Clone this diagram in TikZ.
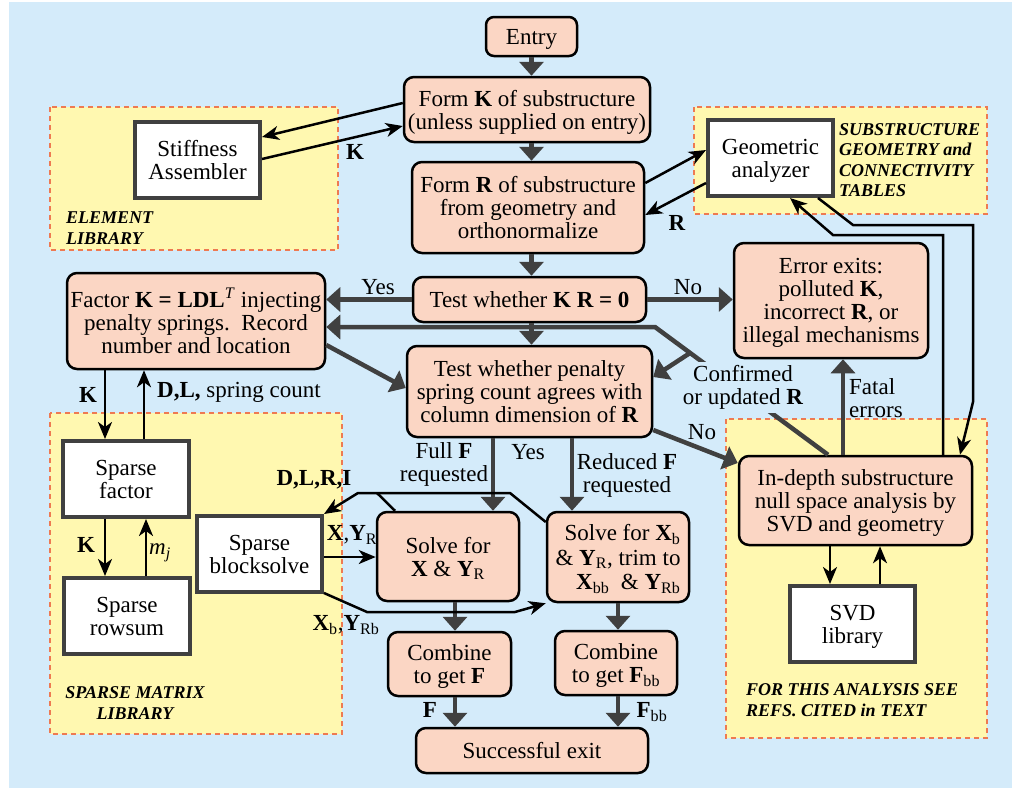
\documentclass[tikz,border=0pt]{standalone}
\usepackage{fontspec}
\setmainfont{Liberation Serif}
\usetikzlibrary{arrows.meta,calc}
\definecolor{bgblue}{RGB}{212,235,250}
\definecolor{peach}{RGB}{251,214,196}
\definecolor{ylw}{RGB}{255,248,176}
\definecolor{dashc}{RGB}{238,122,82}
\definecolor{darkg}{RGB}{64,64,64}
\newcommand\mainf{\fontsize{23}{23}\selectfont}
\newcommand\regf{\fontsize{18}{20.5}\selectfont\bfseries\itshape}
\newcommand\bsub[2]{\textbf{#1}\textsubscript{#2}}
\begin{document}
\begin{tikzpicture}[x=1pt,y=-1pt,
 proc/.style={draw=black, line width=2.5pt, fill=peach, rounded corners=10pt, align=center, inner sep=2pt, font=\mainf, text depth=0pt},
 libbox/.style={draw=darkg, line width=4pt, fill=white, align=center, inner sep=2pt, font=\mainf, text depth=0pt},
 region/.style={draw=dashc, fill=ylw, line width=2pt, dash pattern=on 5pt off 4pt},
 garrow/.style={draw=darkg, line width=4.5pt, -{Triangle[width=24pt,length=14pt]}},
 barrow/.style={draw=black, line width=2.5pt, -{Stealth[length=17pt,width=14pt,inset=5pt]}},
 bline/.style={draw=black, line width=2.5pt},
 lbl/.style={font=\mainf, inner sep=1pt, align=center},
 rlbl/.style={font=\regf, align=left, inner sep=0pt},
]
\useasboundingbox (0,0) rectangle (1012,788);
\fill[white] (0,0) rectangle (1012,788);
\fill[bgblue] (9,2) rectangle (1012,788);

% regions
\draw[region] (50,107) rectangle (338,250);
\draw[region] (694,107) rectangle (987,214);
\draw[region] (50,413) rectangle (342,734);
\draw[region] (726,419) rectangle (987,738);
\node[rlbl, anchor=west] (rl1) at (66,228) {ELEMENT\\LIBRARY};
\node[rlbl, anchor=west] (rl2) at (839,160) {SUBSTRUCTURE\\GEOMETRY and\\CONNECTIVITY\\TABLES};
\node[rlbl, align=center] (rl3) at (135,703) {SPARSE MATRIX\\LIBRARY};
\node[rlbl, anchor=west] (rl4) at (746,700) {FOR THIS ANALYSIS SEE\\REFS. CITED in TEXT};

% process nodes
\node[proc, rounded corners=8pt, minimum width=91pt, minimum height=39pt] (entry) at (531.5,36.5) {Entry};
\node[proc, minimum width=246pt, minimum height=65pt] (fk) at (527,109.5) {Form \textbf{K} of substructure\\(unless supplied on entry)};
\node[proc, minimum width=232pt, minimum height=91pt] (fr) at (528,207.5) {Form \textbf{R} of substructure\\from geometry and\\orthonormalize};
\node[proc, minimum width=233pt, minimum height=45pt] (tkr) at (529.5,299.5) {Test whether \textbf{K R = 0}};
\node[proc, minimum width=258pt, minimum height=96pt] (fac) at (196,321) {Factor \textbf{K = LDL}\textsuperscript{\textit{T}} injecting\\penalty springs.\ \ Record\\number and location};
\node[proc, minimum width=245pt, minimum height=91pt] (tpen) at (529.5,391.5) {Test whether penalty\\spring count agrees with\\column dimension of \textbf{R}};
\node[proc, minimum width=194pt, minimum height=115pt] (err) at (831,300.5) {Error exits:\\polluted \textbf{K},\\incorrect \textbf{R}, or\\illegal mechanisms};
\node[proc, minimum width=233pt, minimum height=89pt] (ind) at (855.5,500.5) {In-depth substructure\\null space analysis by\\SVD and geometry};
\node[proc, minimum width=142pt, minimum height=89pt] (solx) at (448,556.5) {Solve for\\\textbf{X} \& \bsub{Y}{R}};
\node[proc, minimum width=142pt, minimum height=90pt, align=right, font=\fontsize{23}{24.5}\selectfont] (solb) at (618,557) {Solve for \bsub{X}{b}\\\& \bsub{Y}{R}, trim to\\\bsub{X}{bb}\ \ \& \bsub{Y}{Rb}};
\node[proc, minimum width=123pt, minimum height=64pt] (cf) at (449.5,664) {Combine\\to get \textbf{F}};
\node[proc, minimum width=122pt, minimum height=64pt] (cfb) at (616,663) {Combine\\to get \bsub{F}{bb}};
\node[proc, minimum width=232pt, minimum height=45pt] (succ) at (532,750.5) {Successful exit};

% library boxes
\node[libbox, minimum width=125pt, minimum height=76pt] (stiff) at (197.5,160) {Stiffness\\Assembler};
\node[libbox, minimum width=125pt, minimum height=76pt] (geo) at (770.5,158) {Geometric\\analyzer};
\node[libbox, minimum width=126pt, minimum height=76pt] (sfac) at (126,479) {Sparse\\factor};
\node[libbox, minimum width=126pt, minimum height=76pt] (srow) at (127,616) {Sparse\\rowsum};
\node[libbox, minimum width=125pt, minimum height=76pt] (sblk) at (259.5,554) {Sparse\\blocksolve};
\node[libbox, minimum width=125pt, minimum height=76pt] (svd) at (852.5,624) {SVD\\library};

% gray flow arrows
\draw[garrow] (entry.south) -- (entry.south |- fk.north);
\draw[garrow] (entry.south |- fk.south) -- (entry.south |- fr.north);
\draw[garrow] (entry.south |- fr.south) -- (entry.south |- tkr.north);
\draw[garrow] (entry.south |- tkr.south) -- (entry.south |- tpen.north);
\draw[garrow] (tkr.west) -- (fac.east |- tkr.west);
\draw[garrow] (tkr.east) -- (err.west |- tkr.east);
\draw[garrow] (fac.east |- 0,345) -- (tpen.west |- 0,388);
\coordinate (bend) at (655,327);
\coordinate (brp) at (690,353);
\draw[garrow] (ind.north -| 828,0) -- (bend) -- (fac.east |- bend);
\draw[garrow] (brp) -- (tpen.east |- 0,377);
\draw[garrow] (tpen.east |- 0,430) -- (ind.west |- 0,463);
\draw[garrow] (ind.north -| 843,0) -- (err.south -| 843,0);
\draw[garrow] (tpen.south -| 493,0) -- (solx.north -| 493,0);
\draw[garrow] (tpen.south -| 572,0) -- (solb.north -| 572,0);
\draw[garrow] (solx.south -| 455,0) -- (cf.north -| 455,0);
\draw[garrow] (solb.south -| 618,0) -- (cfb.north -| 618,0);
\draw[garrow] (cf.south -| 455,0) -- (succ.north -| 455,0);
\draw[garrow] (cfb.south -| 618,0) -- (succ.north -| 618,0);

% black data arrows
\draw[barrow] (fk.west |- 0,103) -- (stiff.east |- 0,137);
\draw[barrow] (stiff.east |- 0,159) -- (fk.west |- 0,126);
\draw[barrow] (fr.east |- 0,183) -- (geo.west |- 0,150);
\draw[barrow] (geo.west |- 0,183) -- (fr.east |- 0,215);
\draw[barrow] (ind.north -| 943,0) -- (943,235) -- (833,235) -- (geo.south -| 790,0);
\draw[barrow] (geo.south -| 818,0) -- (853,225) -- (973,225) -- (973,402) -- (ind.north -| 960,0);
\draw[barrow] (fac.south -| 105,0) -- (sfac.north -| 105,0);
\draw[barrow] (sfac.north -| 144,0) -- (fac.south -| 144,0);
\draw[barrow] (sfac.south -| 105,0) -- (srow.north -| 105,0);
\draw[barrow] (srow.north -| 146,0) -- (sfac.south -| 146,0);
\draw[barrow] (ind.south -| 830,0) -- (svd.north -| 830,0);
\draw[barrow] (svd.north -| 880,0) -- (ind.south -| 880,0);
\draw[barrow] (sblk.east |- 0,557) -- (solx.west |- 0,557);
\draw[barrow] (sblk.east |- 0,593) -- (367,612) -- (515,612) -- (solb.south west);
\draw[barrow] (solb.west |- 0,522) -- (510,493) -- (358,493) -- (sblk.north east);
\draw[bline] (solx.north -| 395,0) -- (377,493);

% labels
\node[lbl] (lyes1) at (378,287) {Yes};
\node[lbl] (lno1) at (688,287) {No};
\node[lbl] (lk1) at (355,152) {\textbf{K}};
\node[lbl] (lr1) at (677,223) {\textbf{R}};
\node[lbl, fill=bgblue, inner sep=3pt] (lconf) at (743,387.5) {Confirmed\\or updated \textbf{R}};
\node[lbl] (lno2) at (702,432) {No};
\node[lbl, anchor=west, align=left] (lfatal) at (848,398) {Fatal\\errors};
\node[lbl] (lk2) at (88,395) {\textbf{K}};
\node[lbl, anchor=west] (ldl) at (156,392) {\textbf{D,L,} spring count};
\node[lbl] (lk3) at (86,545) {\textbf{K}};
\node[lbl] (lmj) at (160,553) {\textit{m}\textsubscript{\textit{j}}};
\node[lbl] (ldlri) at (314,480) {\textbf{D,L,R,I}};
\node[lbl] (lxy) at (352,535) {\textbf{X},\bsub{Y}{R}};
\node[lbl] (lxyb) at (346,625) {\bsub{X}{b},\bsub{Y}{Rb}};
\node[lbl] (lfull) at (444,464) {Full \textbf{F}\\requested};
\node[lbl] (lyes2) at (528,452) {Yes};
\node[lbl] (lred) at (627,475) {Reduced \textbf{F}\\requested};
\node[lbl] (lf) at (430,710) {\textbf{F}};
\node[lbl] (lfbb) at (652,712) {\bsub{F}{bb}};
\end{tikzpicture}
\end{document}
